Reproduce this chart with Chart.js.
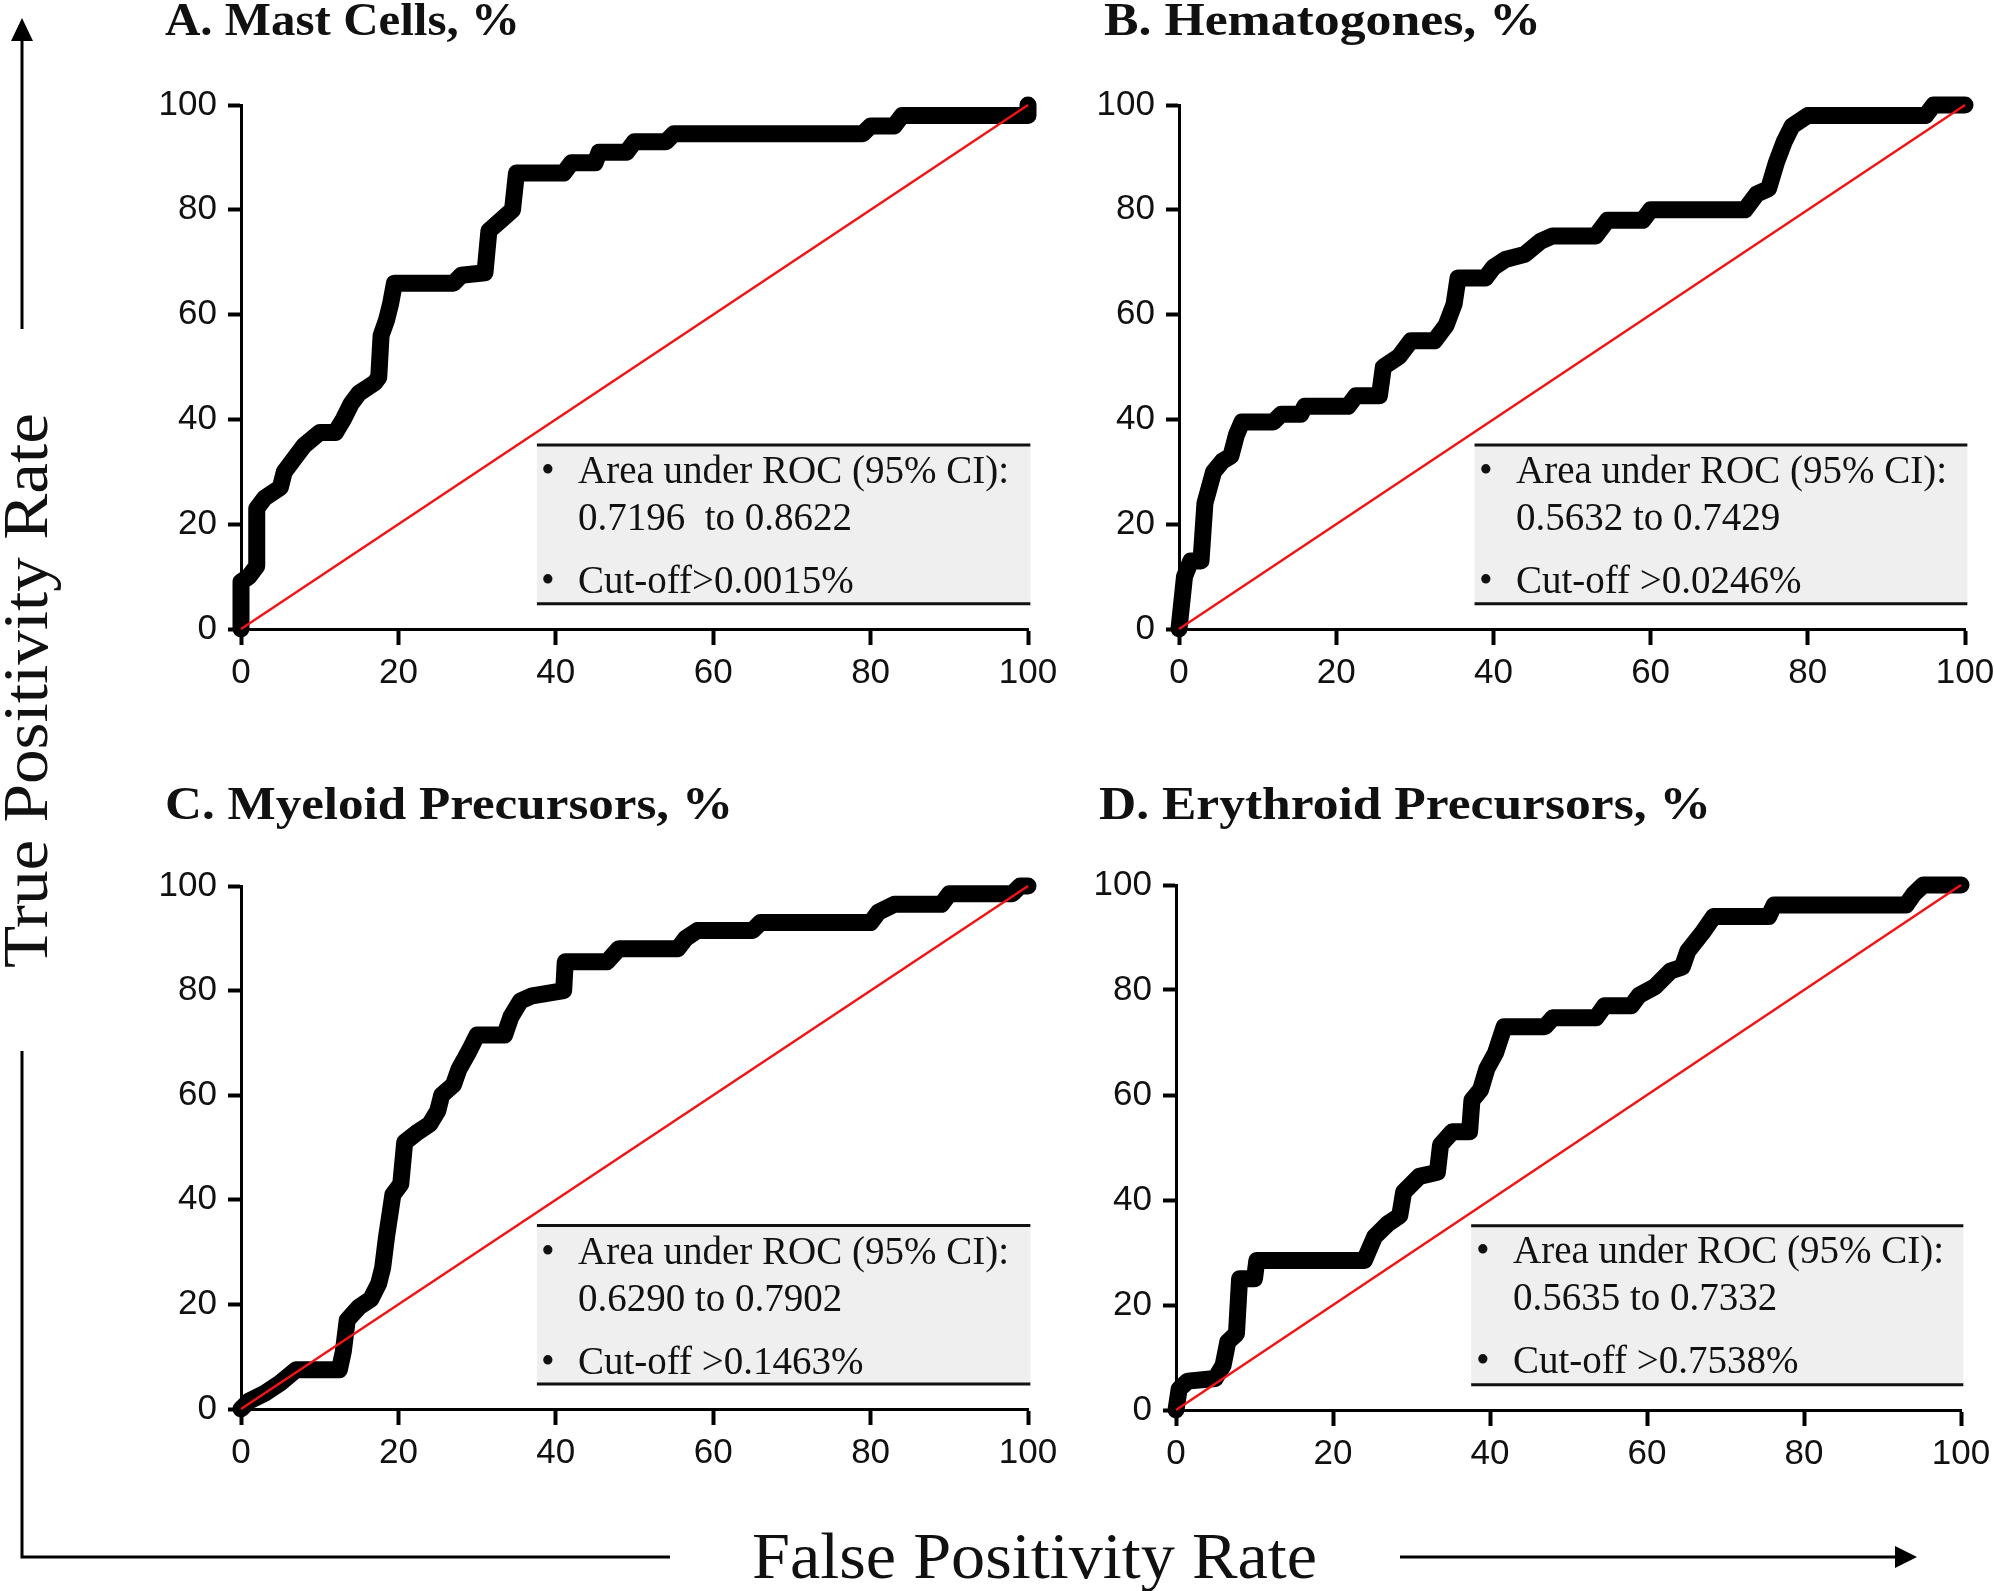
<!DOCTYPE html>
<html>
<head>
<meta charset="utf-8">
<title>ROC curves</title>
<script src="https://cdn.jsdelivr.net/npm/chart.js@4.4.1/dist/chart.umd.min.js"></script>
<style>
html, body { margin: 0; padding: 0; background: #fff; }
#page { position: relative; width: 1994px; height: 1591px; overflow: hidden; background: #fff; }
#page canvas { position: absolute; }
#overlay { position: absolute; left: 0; top: 0; z-index: 2; pointer-events: none; }
.lbl { font-family: 'Liberation Serif', serif; fill: #111; }
</style>
</head>
<body>
<div id="page">
<canvas id="cA"></canvas>
<canvas id="cB"></canvas>
<canvas id="cC"></canvas>
<canvas id="cD"></canvas>
<svg id="overlay" width="1994" height="1591" xmlns="http://www.w3.org/2000/svg">
  <line x1="22" y1="36" x2="22" y2="329" stroke="#000" stroke-width="3"/>
  <polygon points="22,18 11,41 33,41" fill="#000"/>
  <polyline points="22,1051 22,1557 670,1557" fill="none" stroke="#000" stroke-width="3"/>
  <line x1="1400" y1="1557" x2="1898" y2="1557" stroke="#000" stroke-width="3"/>
  <polygon points="1917,1557 1895,1546 1895,1568" fill="#000"/>
  <text class="lbl" x="752" y="1578" font-size="66" textLength="565" lengthAdjust="spacingAndGlyphs">False Positivity Rate</text>
  <text class="lbl" transform="translate(47,968) rotate(-90)" font-size="64" textLength="555" lengthAdjust="spacingAndGlyphs">True Positivity Rate</text>
  <g id="panelText"></g>
</svg>
</div>
<script>
// tick values shared by both axes
const ticks = [0, 20, 40, 60, 80, 100];
const diagonal = [0, 100];

const titles = ['A. Mast Cells, %', 'B. Hematogones, %', 'C. Myeloid Precursors, %', 'D. Erythroid Precursors, %'];
const aucLabel = 'Area under ROC (95% CI):';
const aucRanges = ['0.7196  to 0.8622', '0.5632 to 0.7429', '0.6290 to 0.7902', '0.5635 to 0.7332'];
const cutoffs = ['Cut-off>0.0015%', 'Cut-off >0.0246%', 'Cut-off >0.1463%', 'Cut-off >0.7538%'];

// ROC points (false positive %, true positive %)
const mastFpr = [0,0,1,2,2,3,4,5,5.5,7,8,10,12,13,14,15,17,17.5,17.8,18.5,19,19.5,27,28,31,31.5,33,34.5,35,41,42,45,45.5,49,50,54,55,79,80,83,84,100,100];
const mastTpr = [0,9,10,12,23,25,26,27,30,33,35,37.5,37.5,40,43,45,47,48,56,59,62,66,66,67.5,68,76,78,80,87,87,89,89,91,91,93,93,94.5,94.5,96,96,98,98,100];

const hemaFpr = [0,0.7,1.5,2.8,3.3,4.4,5.5,6.6,7.3,8,12,13,15.5,16,21.5,22.5,25.5,26,28,29.5,32.5,34,35,35.5,39,40,41.5,44,46,47.5,53,54.5,59,60,72,73.5,75,76,77,78,80,95,96,100];
const hemaTpr = [0,10,13,13,24,30,32,33,37,39.5,39.5,41,41,42.5,42.5,44.5,44.5,50,52,55,55,58,62,67,67,69,70.5,71.5,74,75,75,78,78,80,80,83,84,89,93,96,98,98,100,100];

const myeFpr = [0,1,3,5,7,12.5,13,13.5,15,16.5,17.5,18,18.5,19.3,20.3,20.8,22.5,24,25,25.5,27,27.7,29,30,33.5,34.3,35.5,37,41,41.2,46.5,48,55.5,56.5,58,65,66,80,81,83,89,90,98,99,100];
const myeTpr = [0,1.5,3,5,7.5,7.5,11,17,19.5,21,24,27,33,41,43,51,53,54.5,57,60,62,65,68.5,71.5,71.5,75,78,79,80,85.5,85.5,88,88,90,91.5,91.5,93,93,95,96.5,96.5,98.5,98.5,100,100];

const eryFpr = [0,0.4,1.5,5,6,6.6,7.7,8.1,10,10.3,24,25.3,27,28.5,29,31,33.3,33.7,35.2,37.4,37.7,38.8,39.6,40.7,41.8,47,48,53.5,54.6,58,59,61,63,64.5,65.2,67,68.5,75.5,76.2,93,94,95.2,100];
const eryTpr = [0,4,5.5,6,8.5,13,14.5,25,25,28.5,28.5,33,35.5,37,41.5,44.5,45.3,50.5,53,53,59,61,65,68,73,73,74.7,74.7,77,77,79,80.6,83.6,84.4,87.4,90.8,94,94,96.2,96.2,98.3,100,100];

const curves = [[mastFpr, mastTpr], [hemaFpr, hemaTpr], [myeFpr, myeTpr], [eryFpr, eryTpr]];

// plot area of each panel on the page, title position and width
const panels = [
  {id: 'cA', l: 241, t: 105, r: 1028, b: 629, tx: 165, ty: 35, tw: 355},
  {id: 'cB', l: 1179, t: 105, r: 1965, b: 629, tx: 1104, ty: 35, tw: 437},
  {id: 'cC', l: 241, t: 886, r: 1028, b: 1409, tx: 165, ty: 819, tw: 568},
  {id: 'cD', l: 1176, t: 885, r: 1961, b: 1410, tx: 1099, ty: 819, tw: 612}
];

const Y_W = 110, X_H = 80, PAD_T = 30, PAD_R = 45;

const rocBox = {
  id: 'rocBox',
  beforeDatasetsDraw(chart) {
    const {ctx, scales: {x, y}} = chart;
    const x1 = x.getPixelForValue(37.6), x2 = x.getPixelForValue(100.3);
    const yTop = y.getPixelForValue(35.1), yBot = y.getPixelForValue(4.8);
    ctx.save();
    ctx.fillStyle = '#efefef';
    ctx.fillRect(x1, yTop, x2 - x1, yBot - yTop);
    ctx.strokeStyle = '#111';
    ctx.lineWidth = 3;
    ctx.beginPath();
    ctx.moveTo(x1, yTop); ctx.lineTo(x2, yTop);
    ctx.moveTo(x1, yBot); ctx.lineTo(x2, yBot);
    ctx.stroke();
    ctx.restore();
  }
};

function tickFont() {
  return {family: "'Liberation Sans', Arial, sans-serif", size: 35};
}

function rocChart(p, fpr, tpr) {
  const cv = document.getElementById(p.id);
  cv.width = (p.r - p.l) + Y_W + PAD_R;
  cv.height = (p.b - p.t) + PAD_T + X_H;
  cv.style.left = (p.l - Y_W) + 'px';
  cv.style.top = (p.t - PAD_T) + 'px';

  const data = {
    datasets: [
      {
        data: fpr.map((v, i) => ({x: v, y: tpr[i]})),
        showLine: true,
        borderColor: '#000',
        backgroundColor: '#000',
        borderWidth: 17,
        borderCapStyle: 'round',
        borderJoinStyle: 'round',
        pointRadius: 0,
        clip: false,
        order: 2
      },
      {
        data: diagonal.map(v => ({x: v, y: v})),
        showLine: true,
        borderColor: '#f01414',
        borderWidth: 2.5,
        pointRadius: 0,
        clip: false,
        order: 1
      }
    ]
  };

  const axis = (tickLen, pad) => ({
    type: 'linear',
    min: 0,
    max: 100,
    afterBuildTicks: s => { s.ticks = ticks.map(v => ({value: v})); },
    ticks: {color: '#111', font: tickFont(), padding: pad, maxRotation: 0},
    grid: {drawOnChartArea: false, drawTicks: true, tickLength: tickLen, tickWidth: 4, tickColor: '#000'},
    border: {display: true, color: '#000', width: 3}
  });

  const xAxis = axis(16, 7);
  xAxis.afterFit = s => { s.height = X_H; s.paddingLeft = 0; s.paddingRight = 0; };
  const yAxis = axis(13, 11);
  yAxis.afterFit = s => { s.width = Y_W; s.paddingTop = 0; s.paddingBottom = 0; };

  new Chart(cv.getContext('2d'), {
    type: 'scatter',
    data: data,
    options: {
      responsive: false,
      animation: false,
      devicePixelRatio: 1,
      layout: {autoPadding: false, padding: {top: PAD_T, right: PAD_R, left: 0, bottom: 0}},
      plugins: {legend: {display: false}, tooltip: {enabled: false}},
      scales: {x: xAxis, y: yAxis}
    },
    plugins: [rocBox]
  });
}

const NS = 'http://www.w3.org/2000/svg';
function addText(g, str, x, y, size, weight, width) {
  const t = document.createElementNS(NS, 'text');
  t.setAttribute('x', x);
  t.setAttribute('y', y);
  t.setAttribute('class', 'lbl');
  t.setAttribute('font-size', size);
  if (weight) t.setAttribute('font-weight', weight);
  if (width) {
    t.setAttribute('textLength', width);
    t.setAttribute('lengthAdjust', 'spacingAndGlyphs');
  }
  t.setAttribute('style', 'white-space:pre');
  t.textContent = str;
  g.appendChild(t);
}

const g = document.getElementById('panelText');
panels.forEach((p, i) => {
  rocChart(p, curves[i][0], curves[i][1]);
  addText(g, titles[i], p.tx, p.ty, 46, 'bold', p.tw);
  addText(g, '\u2022', p.l + 300, p.t + 378, 39);
  addText(g, aucLabel, p.l + 337, p.t + 378, 39);
  addText(g, aucRanges[i], p.l + 337, p.t + 425, 39);
  addText(g, '\u2022', p.l + 300, p.t + 488, 39);
  addText(g, cutoffs[i], p.l + 337, p.t + 488, 39);
});
</script>
</body>
</html>
